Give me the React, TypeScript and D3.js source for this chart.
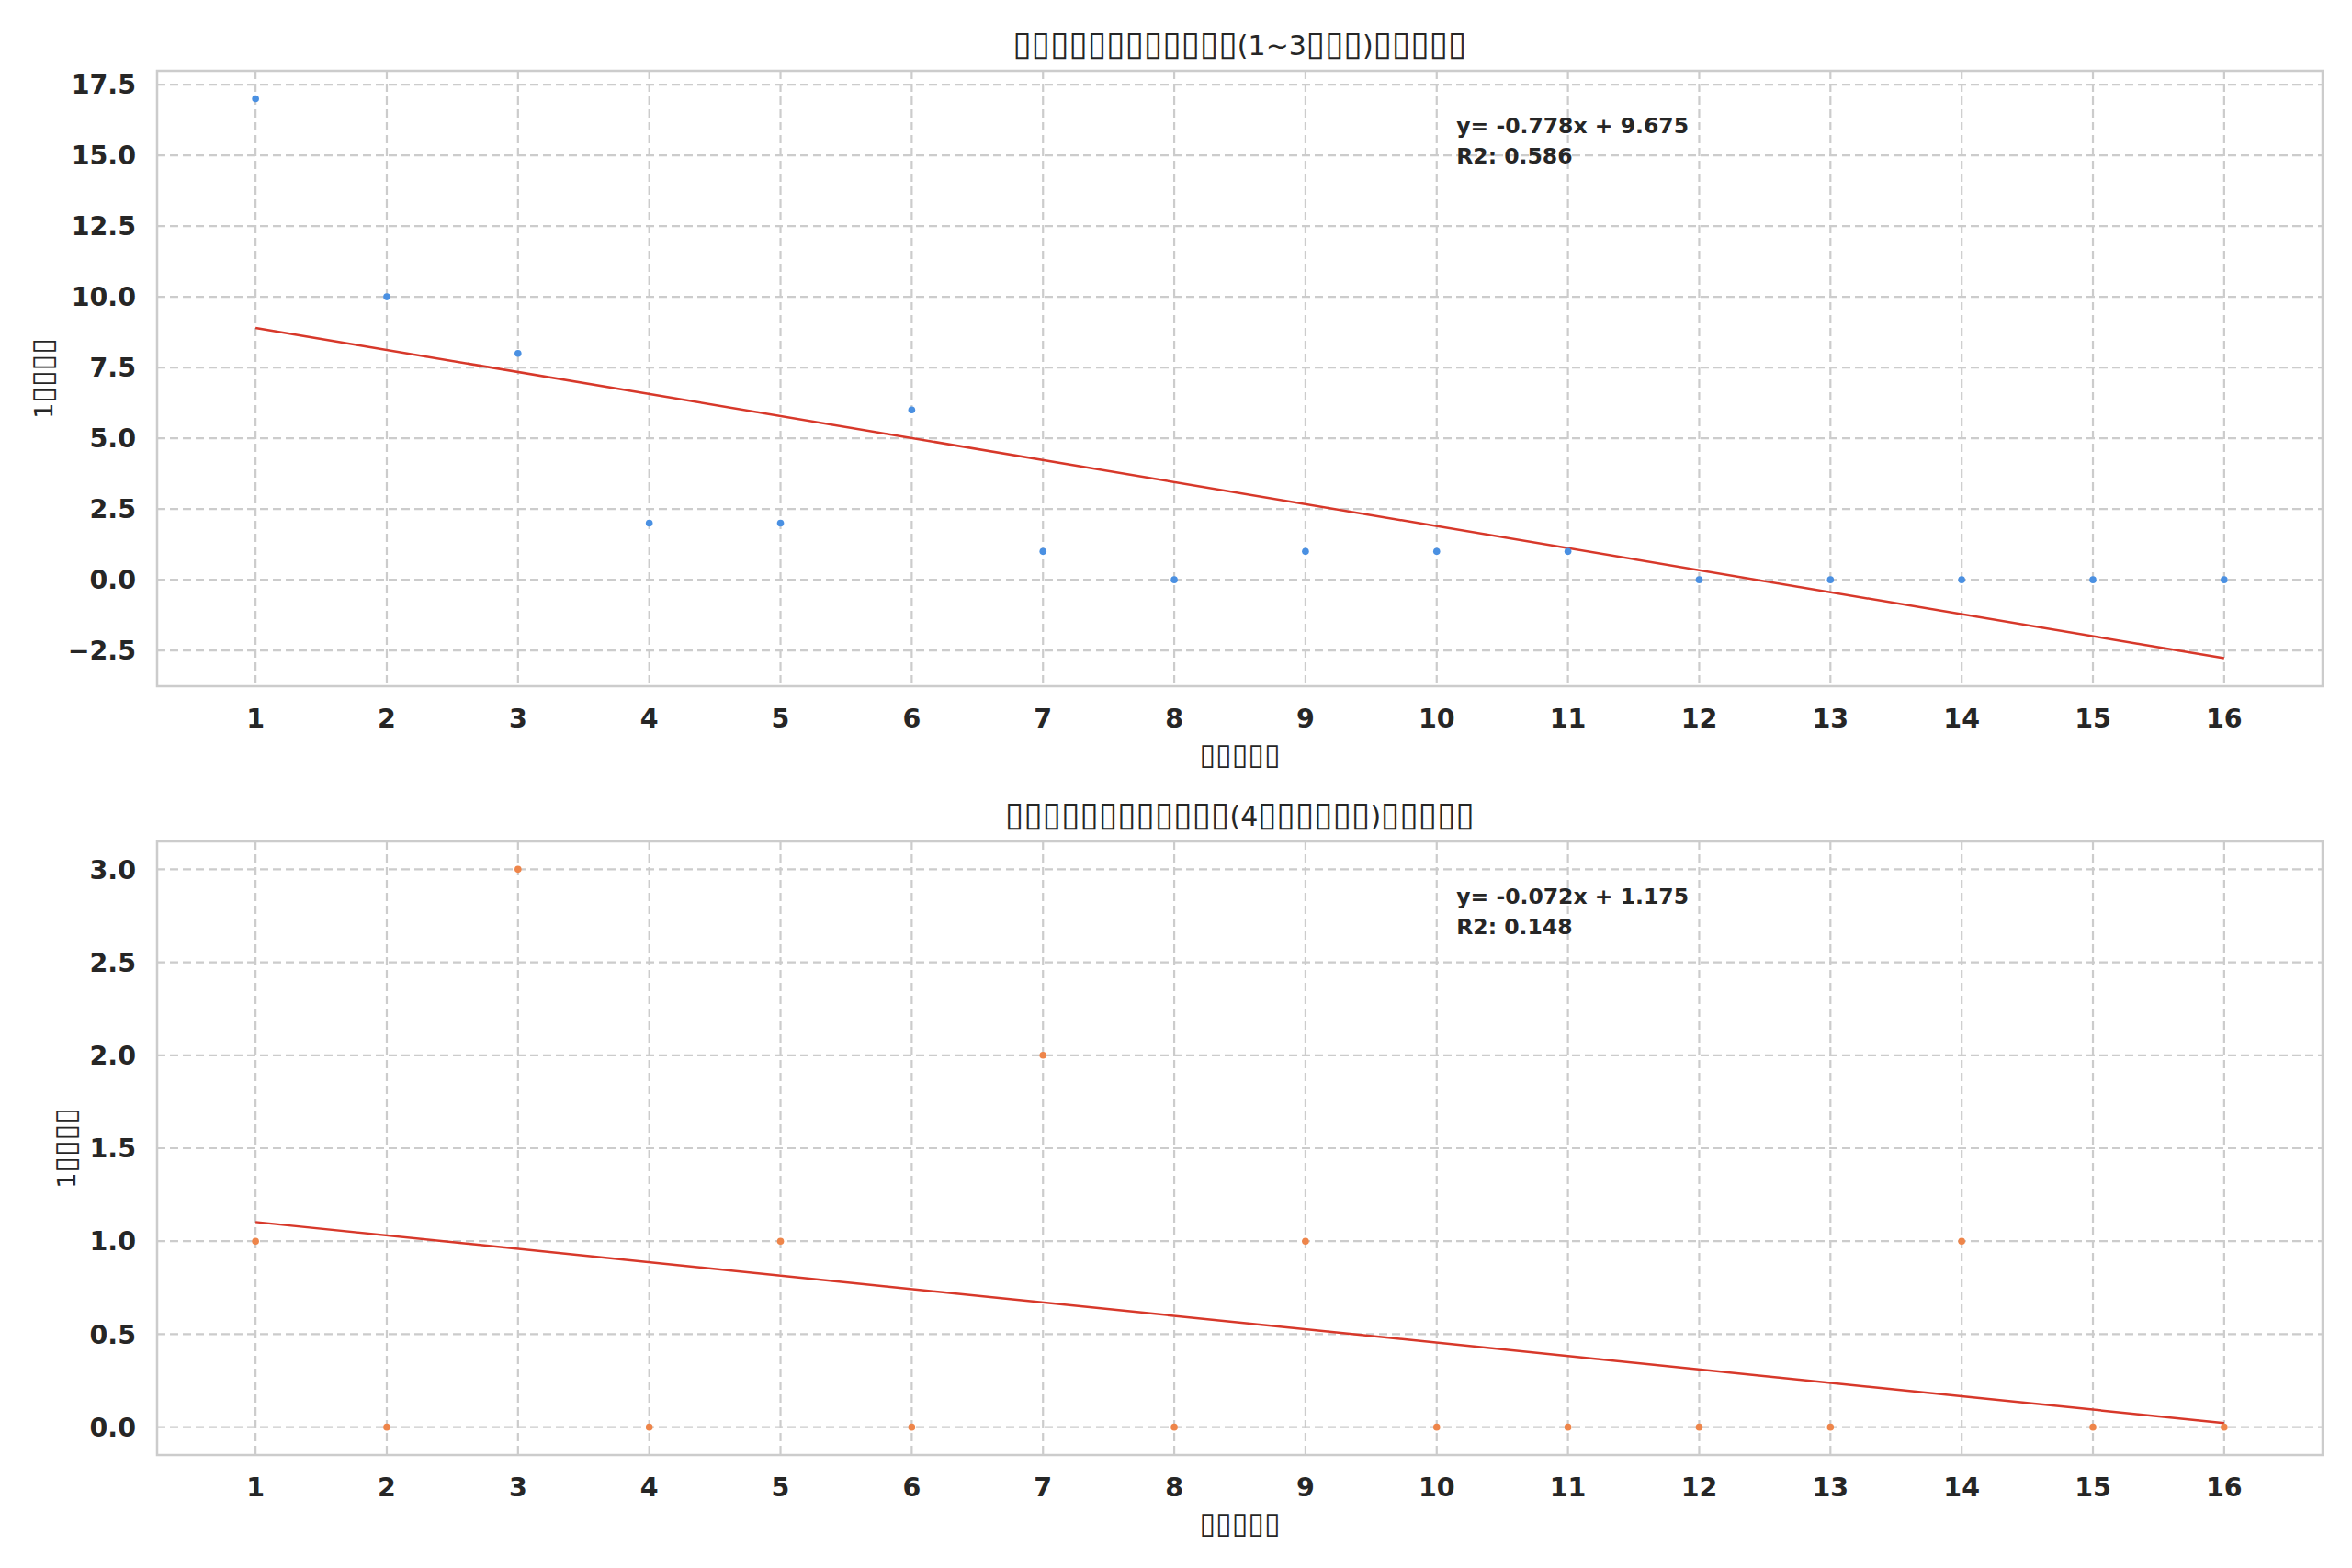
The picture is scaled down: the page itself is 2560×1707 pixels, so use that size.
import { useRef, useEffect } from 'react';
import * as d3 from 'd3';

// Source labels rendered as missing-glyph boxes in the reference
const TITLE_TOP = '▯▯▯▯▯▯▯▯▯▯▯▯(1~3▯▯▯)▯▯▯▯▯';
const TITLE_BOTTOM = '▯▯▯▯▯▯▯▯▯▯▯▯(4▯▯▯▯▯▯)▯▯▯▯▯';
const X_LABEL = '▯▯▯▯▯';
const Y_LABEL = '1▯▯▯▯';

const DAYS = [1, 2, 3, 4, 5, 6, 7, 8, 9, 10, 11, 12, 13, 14, 15, 16];
const COUNTS_TOP = [17, 10, 8, 2, 2, 6, 1, 0, 1, 1, 1, 0, 0, 0, 0, 0];
const COUNTS_BOTTOM = [1, 0, 3, 0, 1, 0, 2, 0, 1, 0, 0, 0, 0, 1, 0, 0];
const Y_TICKS_TOP = [-2.5, 0, 2.5, 5, 7.5, 10, 12.5, 15, 17.5];
const Y_TICKS_BOTTOM = [0, 0.5, 1, 1.5, 2, 2.5, 3];

const W = 2560;
const H = 1707;
const LEFT = 171;
const RIGHT = 2528;

function fit(xs: number[], ys: number[]) {
  const mx = d3.mean(xs)!;
  const my = d3.mean(ys)!;
  let sxy = 0, sxx = 0, syy = 0;
  xs.forEach((x, i) => {
    sxy += (x - mx) * (ys[i] - my);
    sxx += (x - mx) ** 2;
    syy += (ys[i] - my) ** 2;
  });
  const slope = sxy / sxx;
  const intercept = my - slope * mx;
  const r2 = (sxy * sxy) / (sxx * syy);
  return { slope, intercept, r2 };
}

// box runs get a bigger size so they look like the reference's missing glyphs
function boxText(sel: d3.Selection<SVGTextElement, unknown, null, undefined>, s: string, boxSize: number) {
  s.split(/(▯+)/).filter(p => p.length).forEach(p => {
    const t = sel.append('tspan').text(p);
    if (p[0] === '▯') t.attr('font-size', boxSize);
  });
}

function drawPanel(
  svg: d3.Selection<SVGSVGElement, unknown, null, undefined>,
  opts: { top: number; bottom: number; ys: number[]; ticks: number[]; color: string; title: string; ylabelX: number }
) {
  const { top, bottom, ys, ticks, color, title, ylabelX } = opts;
  const { slope, intercept, r2 } = fit(DAYS, ys);
  const lineY = DAYS.map(x => slope * x + intercept);

  const ymin = Math.min(d3.min(ys)!, d3.min(lineY)!);
  const ymax = Math.max(d3.max(ys)!, d3.max(lineY)!);
  const pad = (ymax - ymin) * 0.05;

  const x = d3.scaleLinear().domain([0.25, 16.75]).range([LEFT, RIGHT]);
  const y = d3.scaleLinear().domain([ymin - pad, ymax + pad]).range([bottom, top]);

  const g = svg.append('g');
  const fmt = (v: number) => d3.format('.1f')(v).replace('-', '\u2212');

  // grid
  g.append('g')
    .selectAll('line')
    .data(ticks)
    .join('line')
    .attr('x1', LEFT)
    .attr('x2', RIGHT)
    .attr('y1', d => y(d))
    .attr('y2', d => y(d))
    .attr('stroke', '#cccccc')
    .attr('stroke-width', 2.2)
    .attr('stroke-dasharray', '9,5');
  g.append('g')
    .selectAll('line')
    .data(DAYS)
    .join('line')
    .attr('x1', d => x(d))
    .attr('x2', d => x(d))
    .attr('y1', top)
    .attr('y2', bottom)
    .attr('stroke', '#cccccc')
    .attr('stroke-width', 2.2)
    .attr('stroke-dasharray', '9,5');

  // frame
  g.append('rect')
    .attr('x', LEFT)
    .attr('y', top)
    .attr('width', RIGHT - LEFT)
    .attr('height', bottom - top)
    .attr('fill', 'none')
    .attr('stroke', '#cccccc')
    .attr('stroke-width', 2.5);

  // tick labels
  g.append('g')
    .selectAll('text')
    .data(ticks)
    .join('text')
    .attr('x', LEFT - 23)
    .attr('y', d => y(d))
    .attr('dy', '0.36em')
    .attr('text-anchor', 'end')
    .attr('font-size', 28.5)
    .attr('font-weight', 'bold')
    .attr('fill', '#262626')
    .text(fmt);
  g.append('g')
    .selectAll('text')
    .data(DAYS)
    .join('text')
    .attr('x', d => x(d))
    .attr('y', bottom + 45)
    .attr('text-anchor', 'middle')
    .attr('font-size', 28.5)
    .attr('font-weight', 'bold')
    .attr('fill', '#262626')
    .text(d => String(d));

  // regression line
  const line = d3.line<number>().x(d => x(d)).y(d => y(slope * d + intercept));
  g.append('path')
    .datum([DAYS[0], DAYS[DAYS.length - 1]])
    .attr('d', line)
    .attr('fill', 'none')
    .attr('stroke', '#d7382a')
    .attr('stroke-width', 2.5);

  // points
  g.append('g')
    .selectAll('circle')
    .data(DAYS)
    .join('circle')
    .attr('cx', d => x(d))
    .attr('cy', (d, i) => y(ys[i]))
    .attr('r', 3.8)
    .attr('fill', color);

  // equation text
  const tx = LEFT + 0.6 * (RIGHT - LEFT);
  const sign = intercept >= 0 ? '+' : '-';
  g.append('text')
    .attr('x', tx)
    .attr('y', top + 68)
    .attr('font-size', 23.5)
    .attr('font-weight', 'bold')
    .attr('fill', '#262626')
    .text(`y= ${slope.toFixed(3)}x ${sign} ${Math.abs(intercept).toFixed(3)}`);
  g.append('text')
    .attr('x', tx)
    .attr('y', top + 101)
    .attr('font-size', 23.5)
    .attr('font-weight', 'bold')
    .attr('fill', '#262626')
    .text(`R2: ${r2.toFixed(3)}`);

  // titles and labels
  const cx = (LEFT + RIGHT) / 2;
  const t = g.append('text')
    .attr('x', cx)
    .attr('y', top - 17)
    .attr('text-anchor', 'middle')
    .attr('font-size', 30)
    .attr('fill', '#262626');
  boxText(t, title, 37);
  const xl = g.append('text')
    .attr('x', cx)
    .attr('y', bottom + 85)
    .attr('text-anchor', 'middle')
    .attr('font-size', 27)
    .attr('fill', '#262626');
  boxText(xl, X_LABEL, 32);
  const yl = g.append('text')
    .attr('transform', `translate(${ylabelX},${(top + bottom) / 2}) rotate(-90)`)
    .attr('text-anchor', 'middle')
    .attr('font-size', 27)
    .attr('fill', '#262626');
  boxText(yl, Y_LABEL, 32);
}

export default function App() {
  const ref = useRef<SVGSVGElement>(null);

  useEffect(() => {
    if (!ref.current) return;
    const svg = d3.select(ref.current);
    svg.selectAll('*').remove();
    svg.append('rect').attr('width', W).attr('height', H).attr('fill', '#ffffff');

    drawPanel(svg, { top: 77, bottom: 747, ys: COUNTS_TOP, ticks: Y_TICKS_TOP, color: '#4a90e2', title: TITLE_TOP, ylabelX: 57 });
    drawPanel(svg, { top: 916, bottom: 1584, ys: COUNTS_BOTTOM, ticks: Y_TICKS_BOTTOM, color: '#ee854a', title: TITLE_BOTTOM, ylabelX: 82 });
  }, []);

  return (
    <svg
      ref={ref}
      width={W}
      height={H}
      style={{ position: 'absolute', left: 0, top: 0, fontFamily: '"DejaVu Sans", sans-serif' }}
    />
  );
}
